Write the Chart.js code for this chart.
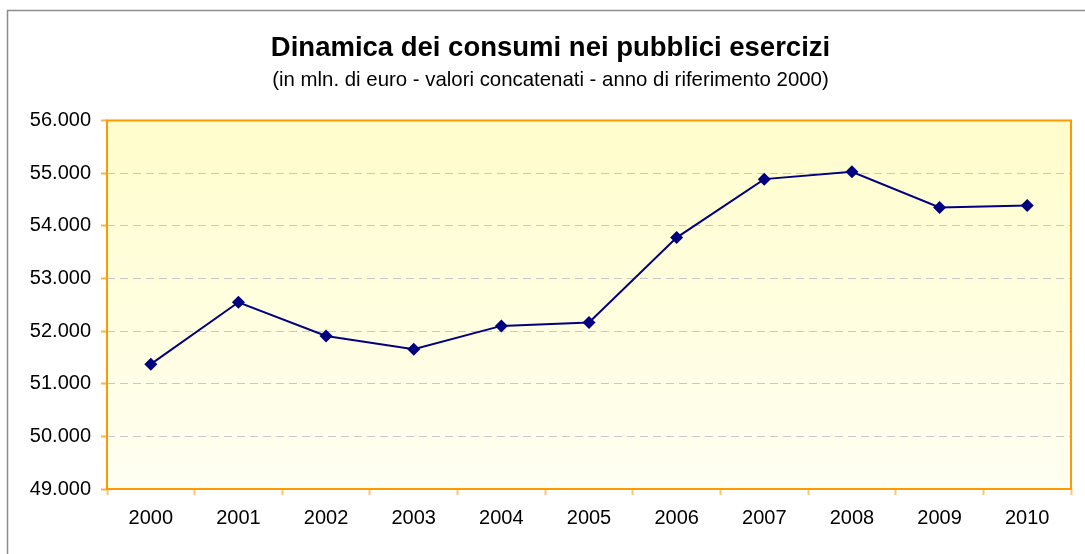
<!DOCTYPE html>
<html>
<head>
<meta charset="utf-8">
<script src="https://cdn.jsdelivr.net/npm/chart.js@4"></script>
<style>
  html, body { margin: 0; padding: 0; background: #fff; }
  #wrap { width: 1085px; height: 554px; position: relative; }
</style>
</head>
<body>
<div id="wrap"><canvas id="chart" width="1085" height="554"></canvas></div>
<script>
const years = ['2000', '2001', '2002', '2003', '2004', '2005', '2006', '2007', '2008', '2009', '2010'];
const consumi = [51371, 52547, 51908, 51655, 52098, 52162, 53775, 54886, 55027, 54349, 54387];
const yMin = 49000;
const yMax = 56000;
const yStep = 1000;

// sfondo a gradiente, bordo arancio e cornice esterna grigia
const frame = {
  id: 'frame',
  beforeDraw(chart) {
    const ctx = chart.ctx;
    const a = chart.chartArea;
    ctx.save();
    ctx.fillStyle = '#fff';
    ctx.fillRect(0, 0, chart.width, chart.height);
    ctx.strokeStyle = '#8c8c8c';
    ctx.lineWidth = 1.5;
    ctx.strokeRect(7.5, 10.5, chart.width + 20, chart.height + 20);
    const g = ctx.createLinearGradient(0, a.top, 0, a.bottom);
    g.addColorStop(0, '#FFFDCB');
    g.addColorStop(1, '#FFFFF2');
    ctx.fillStyle = g;
    ctx.fillRect(a.left, a.top, a.right - a.left, a.bottom - a.top);
    ctx.restore();
  },
  beforeDatasetsDraw(chart) {
    const ctx = chart.ctx;
    const a = chart.chartArea;
    ctx.save();
    ctx.strokeStyle = '#FF9900';
    ctx.lineWidth = 2;
    ctx.strokeRect(a.left, a.top, a.right - a.left, a.bottom - a.top);
    ctx.restore();
  }
};

new Chart(document.getElementById('chart'), {
  type: 'line',
  data: {
    labels: years,
    datasets: [{
      data: consumi,
      borderColor: '#000080',
      backgroundColor: '#000080',
      borderWidth: 2,
      pointStyle: 'rectRot',
      pointRadius: 6.5,
      pointBorderWidth: 0,
      tension: 0
    }]
  },
  options: {
    responsive: false,
    animation: false,
    layout: { padding: { left: 30, right: 14, top: 0, bottom: 0 } },
    plugins: {
      legend: { display: false },
      tooltip: { enabled: false },
      title: {
        display: true,
        text: 'Dinamica dei consumi nei pubblici esercizi',
        color: '#000',
        font: { family: 'Arial, "Liberation Sans"', size: 27.5, weight: 'bold' },
        padding: { top: 32, bottom: 0 }
      },
      subtitle: {
        display: true,
        text: '(in mln. di euro - valori concatenati - anno di riferimento 2000)',
        color: '#000',
        font: { family: 'Arial, "Liberation Sans"', size: 20.4 },
        padding: { top: 3, bottom: 28 }
      }
    },
    scales: {
      x: {
        offset: true,
        grid: {
          offset: true,
          drawOnChartArea: false,
          drawTicks: true,
          tickLength: 6,
          tickColor: '#FFC46E',
          tickWidth: 2
        },
        border: { display: false },
        ticks: {
          color: '#000',
          padding: 11,
          font: { family: 'Arial, "Liberation Sans"', size: 20 }
        },
        afterFit(s) { s.height = 65; }
      },
      y: {
        min: yMin,
        max: yMax,
        grid: {
          color: '#C8C8C8',
          lineWidth: 1,
          tickLength: 6,
          tickColor: '#FFB347',
          tickWidth: 2
        },
        border: { display: false, dash: [8, 5] },
        ticks: {
          stepSize: yStep,
          color: '#000',
          padding: 10,
          font: { family: 'Arial, "Liberation Sans"', size: 20 },
          callback: v => (v / 1000).toFixed(3)
        },
        afterFit(s) { s.width = 77; }
      }
    }
  },
  plugins: [frame]
});
</script>
</body>
</html>
